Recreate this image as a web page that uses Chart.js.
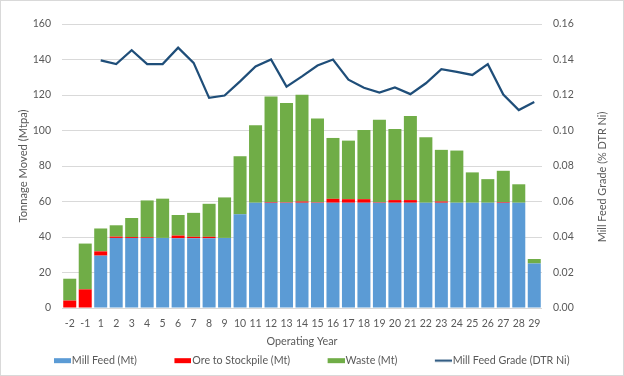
<!DOCTYPE html>
<html lang="en">
<head>
    <meta charset="UTF-8">
    <title>Tonnage moved and mill feed grade</title>
    <script src="https://cdn.jsdelivr.net/npm/chart.js"></script>
    <style>
        body { margin: 0; background: #fff; }
        #wrap { width: 624px; height: 376px; }
    </style>
</head>
<body>
    <div id="wrap">
        <canvas id="myChart" width="624" height="376"></canvas>
    </div>
    <script>
    // operating years
    const years = ['-2', '-1', '1', '2', '3', '4', '5', '6', '7', '8', '9', '10', '11', '12', '13', '14', '15',
        '16', '17', '18', '19', '20', '21', '22', '23', '24', '25', '26', '27', '28', '29'];

    // tonnage (Mt)
    const millFeed = [0, 0, 29.5, 39.5, 39.5, 39.5, 39.5, 39.3, 39.3, 39.3, 39.5, 52.8, 59.3, 59.3, 59.3, 59.3, 59.3,
        59.3, 59.3, 59.3, 59.3, 59.3, 59.3, 59.3, 59.3, 59.3, 59.3, 59.3, 59.3, 59.3, 25.1];
    const oreStockpile = [4.2, 10.5, 2.4, 0.7, 0.5, 0.4, 0, 1.5, 0.8, 0.8, 0, 0, 0, 0.4, 0.3, 0.7, 0.3,
        2.2, 2.0, 2.0, 0.3, 1.5, 1.5, 0, 0.7, 0, 0, 0, 0.4, 0, 0];
    const waste = [12.3, 25.8, 12.9, 6.4, 10.7, 20.7, 22.1, 11.6, 13.5, 18.6, 22.8, 32.7, 43.7, 59.4, 55.9, 60.1, 47.2,
        34.3, 33.0, 39.0, 46.4, 40.1, 47.3, 36.9, 29.1, 29.4, 17.1, 13.3, 17.6, 10.4, 2.5];

    // mill feed grade (% DTR Ni)
    const grade = [null, null, 0.1395, 0.1374, 0.1452, 0.1374, 0.1374, 0.1467, 0.1381, 0.1184, 0.1197, 0.1277,
        0.1361, 0.1400, 0.1247, 0.1305, 0.1366, 0.1400, 0.1286, 0.1241, 0.1214, 0.1243, 0.1205, 0.1266,
        0.1345, 0.1330, 0.1313, 0.1374, 0.1203, 0.1115, 0.1161];

    const seriesNames = ['Mill Feed (Mt)', 'Ore to Stockpile (Mt)', 'Waste (Mt)', 'Mill Feed Grade (DTR Ni)'];

    const textColor = '#595959';
    const fontFamily = 'Lato, sans-serif';

    // the original uses a narrow office font, so size Lato to the same text widths
    function fitSize(texts, target) {
        const m = document.createElement('canvas').getContext('2d');
        m.font = '20px ' + fontFamily;
        const w = [].concat(texts).reduce((s, t) => s + m.measureText(t).width, 0);
        return Math.round(20 * target / w * 10) / 10;
    }
    const legendSize = fitSize(seriesNames, 331);
    const xTitleSize = fitSize('Operating Year', 71);
    const yTitleSize = fitSize('Tonnage Moved (Mtpa)', 113);
    const rTitleSize = fitSize('Mill Feed Grade (% DTR Ni)', 131);
    const tickSize = fitSize('160', 18.3);

    // vertical placement: legend at the bottom, plot bottom at y=308, x title centred at y=342
    const legendTop = 376 - (legendSize + 10);
    const xScaleHeight = legendTop - 308;
    const xTitleBottom = Math.max(0, legendTop - 342 - 0.6 * xTitleSize);

    // legend swatches: 17x5 box just before the text, 37px between items
    const boxW = 17;
    const pointW = Math.round(55 - legendSize / 2);
    const imgW = Math.round(pointW + legendSize - 2);
    function swatch(color, isLine) {
        const c = document.createElement('canvas');
        c.width = imgW;
        c.height = 7;
        const g = c.getContext('2d');
        g.fillStyle = color;
        if (isLine) g.fillRect(imgW - boxW, 2.5, boxW, 2);
        else g.fillRect(imgW - boxW, 1, boxW, 5);
        return c;
    }

    // right axis title reads bottom to top, like the left one
    const rightTitle = {
        id: 'rightTitle',
        afterDraw(chart) {
            const ctx = chart.ctx;
            ctx.save();
            ctx.translate(602, 177);
            ctx.rotate(-Math.PI / 2);
            ctx.font = rTitleSize + 'px ' + fontFamily;
            ctx.fillStyle = textColor;
            ctx.textAlign = 'center';
            ctx.textBaseline = 'middle';
            ctx.fillText('Mill Feed Grade (% DTR Ni)', 0, 0);
            ctx.restore();
            // thin frame round the picture
            ctx.save();
            ctx.strokeStyle = '#d9d9d9';
            ctx.lineWidth = 1;
            ctx.strokeRect(0.5, 0.5, chart.width - 1, chart.height - 1);
            ctx.restore();
        }
    };

    Chart.defaults.font.family = fontFamily;
    Chart.defaults.font.size = legendSize;
    Chart.defaults.color = textColor;

    const ctx = document.getElementById('myChart').getContext('2d');
    const myChart = new Chart(ctx, {
        type: 'bar',
        data: {
            labels: years,
            datasets: [{
                label: seriesNames[0],
                data: millFeed,
                backgroundColor: '#5b9bd5',
                yAxisID: 'y'
            }, {
                label: seriesNames[1],
                data: oreStockpile,
                backgroundColor: '#ff0000',
                yAxisID: 'y'
            }, {
                label: seriesNames[2],
                data: waste,
                backgroundColor: '#70ad47',
                yAxisID: 'y'
            }, {
                type: 'line',
                label: seriesNames[3],
                data: grade,
                borderColor: '#1f4e79',
                backgroundColor: '#1f4e79',
                borderWidth: 2.25,
                pointRadius: 0,
                tension: 0,
                yAxisID: 'y1'
            }]
        },
        options: {
            responsive: false,
            animation: false,
            datasets: {
                bar: { barPercentage: 0.84, categoryPercentage: 1 }
            },
            // right padding pulls the legend's centre to the left, as in the original
            layout: { padding: { top: 24, bottom: 0, left: 0, right: 38 } },
            scales: {
                x: {
                    stacked: true,
                    grid: { display: false, drawTicks: false },
                    border: { display: false },
                    ticks: { autoSkip: false, maxRotation: 0, padding: 9.5, font: { size: tickSize } },
                    title: {
                        display: true,
                        text: 'Operating Year',
                        font: { size: xTitleSize },
                        padding: { top: 0, bottom: xTitleBottom }
                    },
                    afterFit(scale) { scale.height = xScaleHeight; }
                },
                y: {
                    stacked: true,
                    min: 0,
                    max: 160,
                    ticks: { stepSize: 20, padding: 11, font: { size: tickSize } },
                    grid: { color: '#d9d9d9', drawTicks: false },
                    border: { display: false },
                    title: {
                        display: true,
                        text: 'Tonnage Moved (Mtpa)',
                        font: { size: yTitleSize },
                        padding: { top: 23.5 - 0.6 * yTitleSize, bottom: 0 }
                    },
                    afterFit(scale) { scale.width = 62; }
                },
                y1: {
                    position: 'right',
                    min: 0,
                    max: 0.16,
                    ticks: {
                        stepSize: 0.02,
                        padding: 11,
                        font: { size: tickSize },
                        callback: v => v.toFixed(2)
                    },
                    grid: { display: false, drawTicks: false },
                    border: { display: false },
                    afterFit(scale) { scale.width = 44; }
                }
            },
            plugins: {
                tooltip: { enabled: false },
                legend: {
                    position: 'bottom',
                    labels: {
                        usePointStyle: true,
                        pointStyleWidth: pointW,
                        padding: 0,
                        font: { size: legendSize },
                        generateLabels(chart) {
                            const items = Chart.defaults.plugins.legend.labels.generateLabels(chart);
                            items.forEach(it => {
                                const ds = chart.data.datasets[it.datasetIndex];
                                it.pointStyle = swatch(ds.type === 'line' ? ds.borderColor : ds.backgroundColor, ds.type === 'line');
                            });
                            return items;
                        }
                    }
                }
            }
        },
        plugins: [rightTitle]
    });
    </script>
</body>
</html>
